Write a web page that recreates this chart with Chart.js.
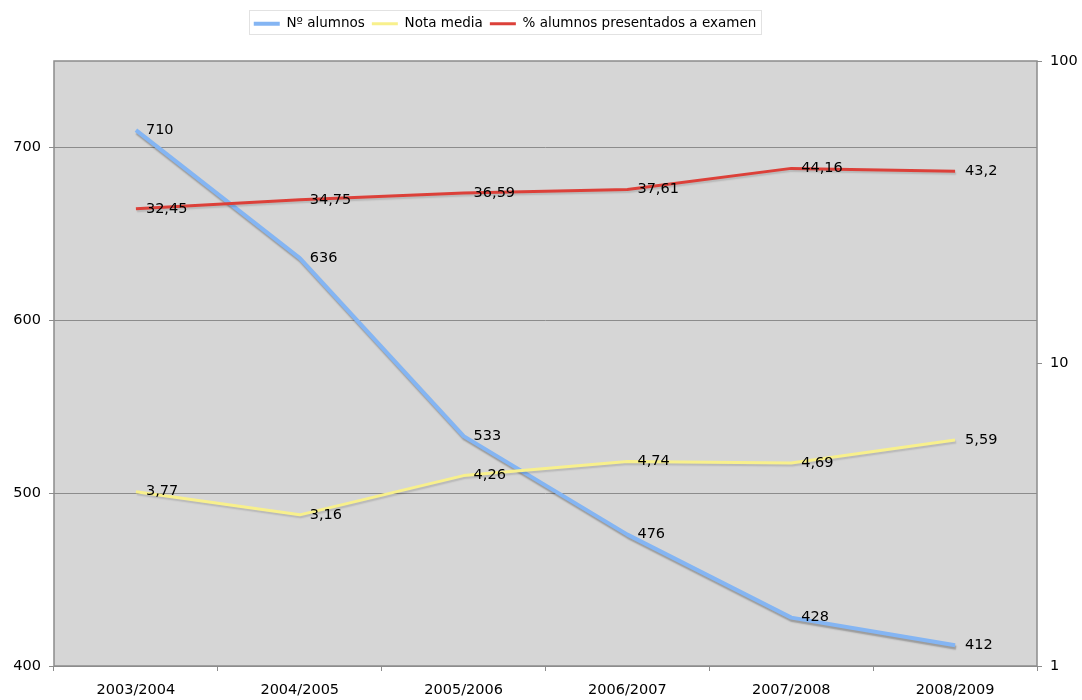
<!DOCTYPE html>
<html>
<head>
<meta charset="utf-8">
<script src="https://cdn.jsdelivr.net/npm/chart.js@4.4.1/dist/chart.umd.min.js"></script>
<style>
  html, body { margin: 0; padding: 0; background: #ffffff; }
  #wrap { width: 1082px; height: 700px; }
</style>
</head>
<body>
<div id="wrap"><canvas id="grafico" width="1082" height="700"></canvas></div>
<script>
// Cursos académicos
const cursos = ['2003/2004', '2004/2005', '2005/2006', '2006/2007', '2007/2008', '2008/2009'];
// Número de alumnos matriculados (eje izquierdo)
const numAlumnos = [710, 636, 533, 476, 428, 412];
// Nota media (eje derecho, logarítmico)
const notaMedia = [3.77, 3.16, 4.26, 4.74, 4.69, 5.59];
// Porcentaje de alumnos presentados a examen (eje derecho, logarítmico)
const pctPresentados = [32.45, 34.75, 36.59, 37.61, 44.16, 43.2];
// Marcas de los ejes
const ticksIzquierda = [400, 500, 600, 700];
const ticksDerecha = [1, 10, 100];

const FUENTE = '"DejaVu Sans", Verdana, sans-serif';
const TEXTO = '#000000';

const formatoDecimal = v => String(v).replace('.', ',');

// Fondo gris y marco del área de trazado
const fondoArea = {
  id: 'fondoArea',
  beforeDraw(chart) {
    const { ctx, chartArea: a } = chart;
    ctx.save();
    ctx.fillStyle = '#d6d6d6';
    ctx.fillRect(a.left, a.top, a.right - a.left, a.bottom - a.top);
    ctx.restore();
  },
  beforeDatasetsDraw(chart) {
    const { ctx, chartArea: a } = chart;
    ctx.save();
    ctx.strokeStyle = '#8c8c8c';
    ctx.lineWidth = 1.5;
    ctx.strokeRect(a.left, a.top, a.right - a.left, a.bottom - a.top);
    ctx.restore();
  }
};

// Sombra suave bajo cada línea
const sombraLineas = {
  id: 'sombraLineas',
  beforeDatasetDraw(chart, args) {
    const ctx = chart.ctx;
    const fuerte = args.index === 0;
    ctx.save();
    ctx.shadowColor = fuerte ? 'rgba(0,0,0,0.28)' : 'rgba(0,0,0,0.14)';
    ctx.shadowOffsetX = 1;
    ctx.shadowOffsetY = fuerte ? 2.5 : 2;
    ctx.shadowBlur = 1.5;
  },
  afterDatasetDraw(chart) {
    chart.ctx.restore();
  }
};

// Etiquetas de valor a la derecha de cada punto
const etiquetasValor = {
  id: 'etiquetasValor',
  afterDatasetsDraw(chart) {
    const ctx = chart.ctx;
    ctx.save();
    ctx.font = '14.5px ' + FUENTE;
    ctx.fillStyle = TEXTO;
    ctx.textAlign = 'left';
    ctx.textBaseline = 'middle';
    chart.data.datasets.forEach((ds, i) => {
      const meta = chart.getDatasetMeta(i);
      meta.data.forEach((pt, j) => {
        ctx.fillText(formatoDecimal(ds.data[j]), pt.x + 10, pt.y);
      });
    });
    ctx.restore();
  }
};

// Leyenda recolocada y enmarcada
const marcoLeyenda = {
  id: 'marcoLeyenda',
  afterLayout(chart) {
    const lg = chart.legend;
    const dx = 505 - (lg.left + lg.right) / 2;
    const dy = 10 - lg.top;
    lg.left += dx; lg.right += dx;
    lg.top += dy; lg.bottom += dy;
  },
  afterDraw(chart) {
    const lg = chart.legend;
    const pad = lg.options.labels.padding;
    const w = lg.lineWidths[0] - pad;
    const cx = (lg.left + lg.right) / 2;
    const x0 = Math.round(cx - w / 2 - 5) + 0.5;
    const x1 = Math.round(cx + w / 2 + 5) + 0.5;
    const ctx = chart.ctx;
    ctx.save();
    ctx.strokeStyle = '#e2e2e2';
    ctx.lineWidth = 1;
    ctx.strokeRect(x0, 10.5, x1 - x0, 24);
    ctx.restore();
  }
};

new Chart(document.getElementById('grafico'), {
  type: 'line',
  data: {
    labels: cursos,
    datasets: [
      {
        label: 'Nº alumnos',
        data: numAlumnos,
        yAxisID: 'y',
        borderColor: '#84b5f3',
        backgroundColor: '#84b5f3',
        borderWidth: 4,
        order: 3
      },
      {
        label: 'Nota media',
        data: notaMedia,
        yAxisID: 'y1',
        borderColor: '#f8f08c',
        backgroundColor: '#f8f08c',
        borderWidth: 3,
        order: 2
      },
      {
        label: '% alumnos presentados a examen',
        data: pctPresentados,
        yAxisID: 'y1',
        borderColor: '#dc4039',
        backgroundColor: '#dc4039',
        borderWidth: 3,
        order: 1
      }
    ]
  },
  options: {
    responsive: false,
    animation: false,
    events: [],
    layout: { padding: { top: 30.5, left: 0, right: 0, bottom: 0 } },
    elements: {
      point: { radius: 0, hoverRadius: 0 },
      line: { tension: 0, borderJoinStyle: 'round', borderCapStyle: 'butt', fill: false }
    },
    plugins: {
      legend: {
        position: 'top',
        labels: {
          usePointStyle: true,
          pointStyle: 'line',
          pointStyleWidth: 26,
          padding: 7,
          color: TEXTO,
          font: { family: FUENTE, size: 13.5 },
          sort: (a, b) => a.datasetIndex - b.datasetIndex
        }
      },
      tooltip: { enabled: false }
    },
    scales: {
      x: {
        type: 'category',
        offset: true,
        grid: { offset: true, drawOnChartArea: false, tickLength: 5, color: '#8c8c8c' },
        border: { display: false },
        ticks: { color: TEXTO, font: { family: FUENTE, size: 14.5 }, padding: 11, maxRotation: 0 },
        afterFit(s) { s.height = 34; }
      },
      y: {
        type: 'linear',
        position: 'left',
        min: 400,
        max: 750,
        afterBuildTicks(s) { s.ticks = ticksIzquierda.map(v => ({ value: v })); },
        grid: { color: '#8c8c8c', tickLength: 5 },
        border: { display: false },
        ticks: { color: TEXTO, font: { family: FUENTE, size: 14.5 }, padding: 8 },
        afterFit(s) { s.width = 54; }
      },
      y1: {
        type: 'logarithmic',
        position: 'right',
        min: 1,
        max: 100,
        afterBuildTicks(s) { s.ticks = ticksDerecha.map(v => ({ value: v })); },
        grid: { drawOnChartArea: false, color: '#8c8c8c', tickLength: 5 },
        border: { display: false },
        ticks: { color: TEXTO, font: { family: FUENTE, size: 14.5 }, padding: 8, callback: v => String(v) },
        afterFit(s) { s.width = 45; }
      }
    }
  },
  plugins: [fondoArea, sombraLineas, etiquetasValor, marcoLeyenda]
});
</script>
</body>
</html>
